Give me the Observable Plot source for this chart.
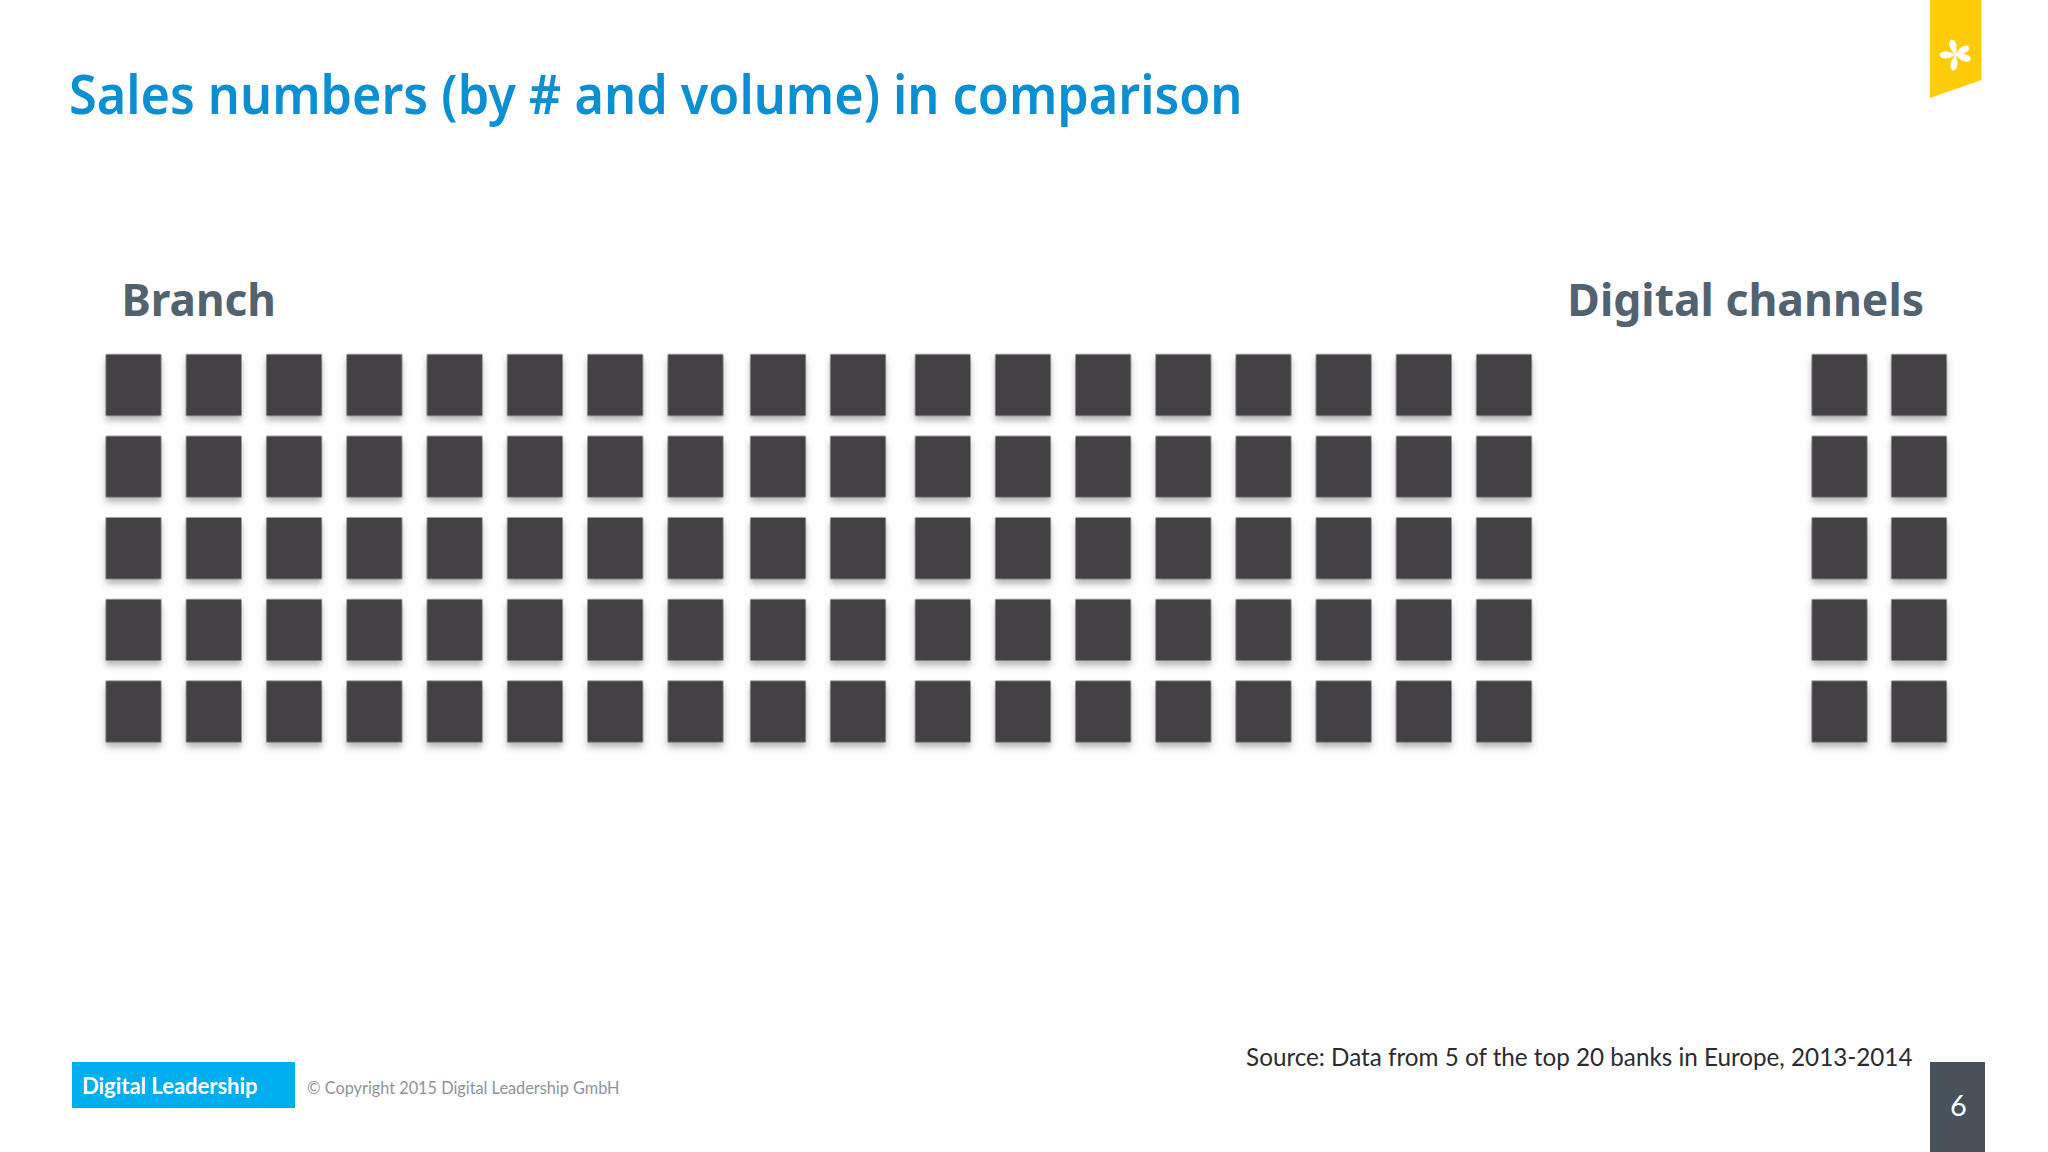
<!DOCTYPE html>
<html>
<head>
<meta charset="utf-8">
<script src="https://cdn.jsdelivr.net/npm/d3@7"></script>
<script src="https://cdn.jsdelivr.net/npm/@observablehq/plot@0.6"></script>
<style>
  html, body { margin: 0; padding: 0; background: #fefefe; }
  #slide { position: relative; width: 2048px; height: 1152px; overflow: hidden; background: #fefefe; font-family: "Lato", sans-serif; }
  #slide > * { position: absolute; }
  #chart { left: 0; top: 0; }
  #title { left: 69px; top: 54.5px; margin: 0; font: 600 55px "Noto Sans", sans-serif; color: #0a8fd2; white-space: nowrap; transform: scaleX(.916); transform-origin: left center; }
  #brand { left: 72px; top: 1062px; width: 223px; height: 46px; background: #00adef; color: #fff; font: 700 22.2px/47px "Lato", sans-serif; text-indent: 10px; letter-spacing: -.1px; }
  #copy { left: 307px; top: 1078px; font: 400 16.3px "Lato", sans-serif; color: #8f939b; white-space: nowrap; }
  #source { right: 136px; top: 1041px; font: 400 25.5px "Lato", sans-serif; color: #2b2b30; white-space: nowrap; transform: scaleX(.95); transform-origin: right center; }
  #page { left: 1930px; top: 1062px; width: 55px; height: 90px; background: #48525b; color: #fff; font: 400 29px/86px "Lato", sans-serif; text-align: center; text-indent: 2px; }
  #ribbon { left: 1930px; top: 0; }
</style>
</head>
<body>
<div id="slide">
  <div id="chart"></div>
  <h1 id="title">Sales numbers (by # and volume) in comparison</h1>
  <svg id="ribbon" width="52" height="100" viewBox="0 0 52 100">
    <polygon points="0,0 51.5,0 51.5,80 0,98" fill="#ffcc0a"></polygon>
    <g fill="#fff" transform="translate(25.5,55)">
      <path d="M0,0C-3.5,-5 -5.5,-14 0,-16C5.5,-14 3.5,-5 0,0Z" transform="rotate(-15)"></path>
      <path d="M0,0C-3.5,-5 -5.5,-14 0,-16C5.5,-14 3.5,-5 0,0Z" transform="rotate(58)"></path>
      <path d="M0,0C-3.5,-5 -5.5,-14 0,-16C5.5,-14 3.5,-5 0,0Z" transform="rotate(107)"></path>
      <path d="M0,0C-3.5,-5 -5.5,-14 0,-16C5.5,-14 3.5,-5 0,0Z" transform="rotate(189)"></path>
      <path d="M0,0C-3.5,-5 -5.5,-14 0,-16C5.5,-14 3.5,-5 0,0Z" transform="rotate(270)"></path>
    </g>
  </svg>
  <div id="brand">Digital Leadership</div>
  <div id="copy">© Copyright 2015 Digital Leadership GmbH</div>
  <div id="source">Source: Data from 5 of the top 20 banks in Europe, 2013-2014</div>
  <div id="page">6</div>
</div>
<script>
const branchColumns = [0,1,2,3,4,5,6,7,8,9,10,11,12,13,14,15,16,17];
const digitalColumns = [18,19];
const rows = [0,1,2,3,4];
const groupLabels = ["Branch", "Digital channels"];

const columnDomain = [0, 7, 8, 9, 10, 17, 18, 19];
const columnRange  = [133, 695, 777.5, 857.5, 942.3, 1503.5, 1839, 1918.5];
const cellW = 55.4, cellH = 61.3;

const cellSymbol = { draw(c) { c.rect(-cellW / 2, -cellH / 2, cellW, cellH); } };

const cells = [...branchColumns, ...digitalColumns].flatMap(col => rows.map(row => ({col, row})));

const plot = Plot.plot({
  width: 2048,
  height: 1152,
  margin: 0,
  style: {background: "transparent"},
  x: {type: "linear", domain: columnDomain, range: columnRange, axis: null},
  y: {type: "linear", domain: [0, 4], range: [384.5, 711], axis: null},
  marks: [
    Plot.dot(cells, {
      x: "col", y: "row", symbol: cellSymbol, fill: "#434144", stroke: "none",
      imageFilter: "drop-shadow(0 5px 3px rgba(0,0,0,.28))"
    }),
    Plot.text([groupLabels[0]], {
      x: () => branchColumns[0], y: () => rows[0], text: d => d,
      textAnchor: "start", dx: -12, dy: -83,
      fontFamily: "Noto Sans", fontWeight: 700, fontSize: 44, fill: "#52626f"
    }),
    Plot.text([groupLabels[1]], {
      x: () => digitalColumns[1], y: () => rows[0], text: d => d,
      textAnchor: "end", dx: 5, dy: -83,
      fontFamily: "Noto Sans", fontWeight: 700, fontSize: 44.5, fill: "#52626f"
    })
  ]
});
document.getElementById("chart").append(plot);
</script>
</body>
</html>
